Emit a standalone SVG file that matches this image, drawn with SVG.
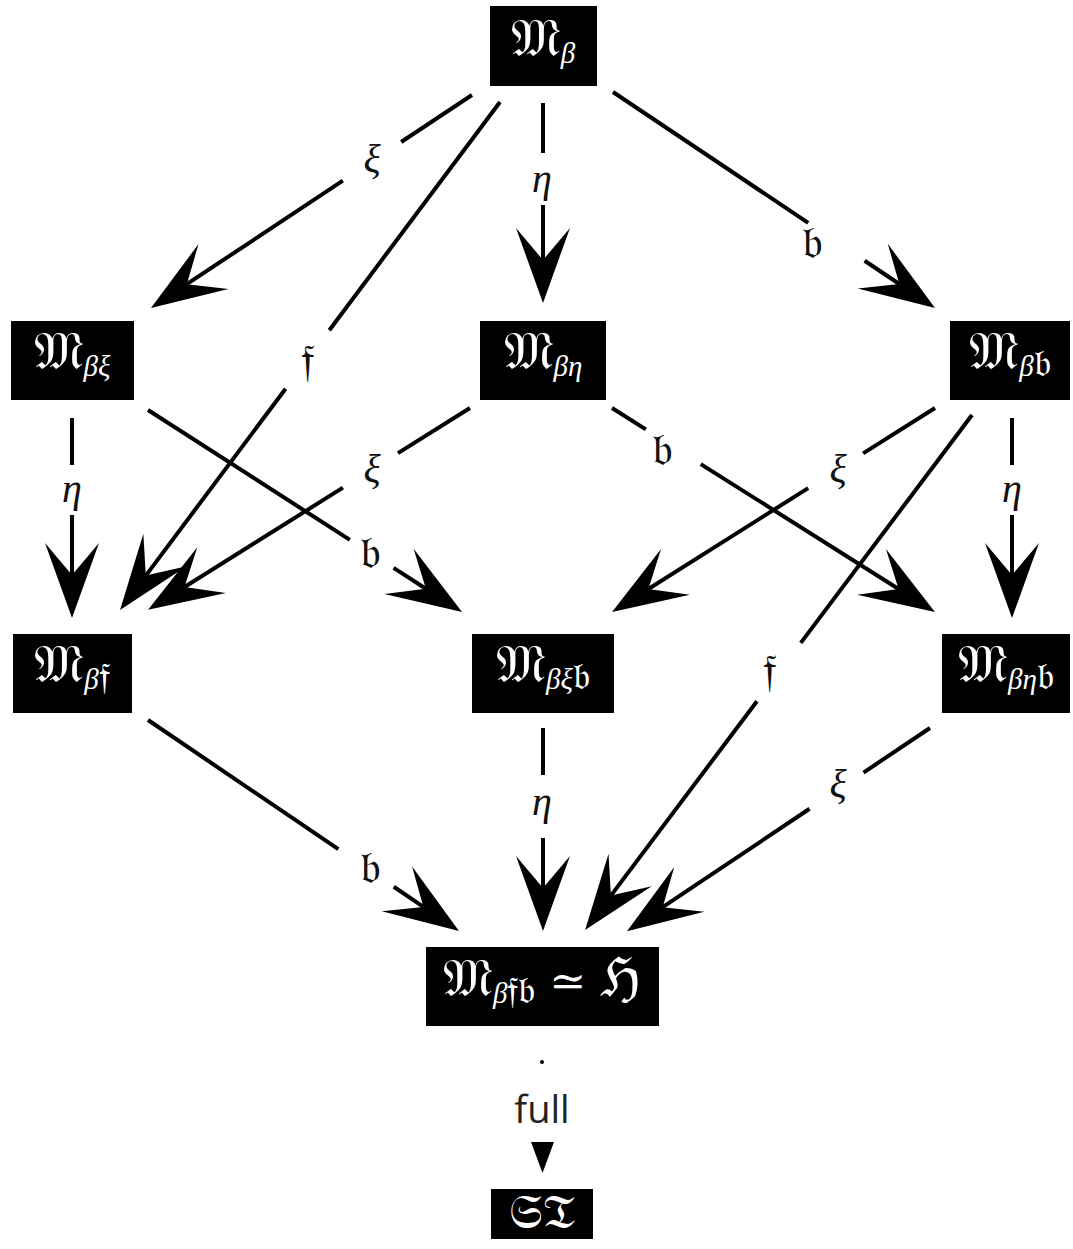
<svg xmlns="http://www.w3.org/2000/svg" width="1073" height="1249" viewBox="0 0 1073 1249">
<style>
.box{fill:#000}
.nt{fill:#fff;font-family:"DejaVu Serif","DejaVu Sans",serif;font-size:54px;text-anchor:middle}
.sub{font-family:"Liberation Serif","DejaVu Serif",serif;font-style:italic;font-size:29px}
.subf{font-family:"DejaVu Serif","DejaVu Sans",serif;font-style:normal;font-size:38px}
.rel{font-family:"DejaVu Serif","DejaVu Sans",serif;font-size:44px}
.edge{fill:none;stroke:#000;stroke-width:4}
.gl{font-family:"Liberation Serif","DejaVu Serif",serif;font-style:italic;font-size:40px;fill:#111;text-anchor:middle}
.fl{font-family:"DejaVu Serif","DejaVu Sans",serif;font-size:46px;fill:#111;text-anchor:middle}
.full{font-family:"Open Sans","Noto Sans",sans-serif;font-size:38px;fill:#222;text-anchor:middle}
</style>
<defs>
<marker id="ah" markerUnits="userSpaceOnUse" markerWidth="80" markerHeight="60" refX="0" refY="0" orient="auto" overflow="visible">
<path d="M43,0 L-32,-27 L0,0 L-32,27 Z" fill="#000"/>
</marker>
</defs>
<g id="connectors">
<path class="edge" d="M472,95 L186.8,284.2" stroke-dasharray="85 70 1000" marker-end="url(#ah)"/>
<path class="edge" d="M500,102 L145.8,575.6" stroke-dasharray="285 73 1000" marker-end="url(#ah)"/>
<path class="edge" d="M543,103 L543,260" stroke-dasharray="50 52 1000" marker-end="url(#ah)"/>
<path class="edge" d="M613,92 L899.3,284" stroke-dasharray="235 68 1000" marker-end="url(#ah)"/>
<path class="edge" d="M72,418 L72,575" stroke-dasharray="47 50 1000" marker-end="url(#ah)"/>
<path class="edge" d="M148,410 L425.9,588.7" stroke-dasharray="240 52 1000" marker-end="url(#ah)"/>
<path class="edge" d="M470,408 L184.5,587" stroke-dasharray="85 65 1000" marker-end="url(#ah)"/>
<path class="edge" d="M612,408 L898.6,589" stroke-dasharray="40 65 1000" marker-end="url(#ah)"/>
<path class="edge" d="M935,408 L648.4,589" stroke-dasharray="85 65 1000" marker-end="url(#ah)"/>
<path class="edge" d="M972,415 L610.9,895.6" stroke-dasharray="285 73 1000" marker-end="url(#ah)"/>
<path class="edge" d="M1012,418 L1012,575" stroke-dasharray="47 50 1000" marker-end="url(#ah)"/>
<path class="edge" d="M148,720 L423.4,906.9" stroke-dasharray="230 67 1000" marker-end="url(#ah)"/>
<path class="edge" d="M543,728 L543,888" stroke-dasharray="47 63 1000" marker-end="url(#ah)"/>
<path class="edge" d="M930,728 L662.7,907.2" stroke-dasharray="80 65 1000" marker-end="url(#ah)"/>
<circle cx="542" cy="1062" r="2" fill="#000"/>
<path d="M531,1142 L554,1142 L542.5,1173 Z" fill="#000"/>
<text class="gl" x="372" y="172">ξ</text>
<text class="fl" x="308" y="376">𝔣</text>
<text class="gl" x="542" y="192">η</text>
<text class="fl" x="812" y="258">𝔟</text>
<text class="gl" x="72" y="502">η</text>
<text class="fl" x="370" y="568">𝔟</text>
<text class="gl" x="372" y="482">ξ</text>
<text class="fl" x="662" y="465">𝔟</text>
<text class="gl" x="838" y="482">ξ</text>
<text class="fl" x="770" y="686">𝔣</text>
<text class="gl" x="1012" y="502">η</text>
<text class="fl" x="370" y="883">𝔟</text>
<text class="gl" x="542" y="815">η</text>
<text class="gl" x="838" y="797">ξ</text>
<text class="full" x="542" y="1123">full</text>
</g>
<g id="n1"><rect class="box" x="490" y="6" width="107" height="80"/><text class="nt" x="543" y="56">𝔐<tspan class="sub" dy="7">β</tspan></text></g>
<g id="n2"><rect class="box" x="11" y="321" width="123" height="79"/><text class="nt" x="72" y="369">𝔐<tspan class="sub" dy="7">βξ</tspan></text></g>
<g id="n3"><rect class="box" x="480" y="321" width="126" height="79"/><text class="nt" x="543" y="369">𝔐<tspan class="sub" dy="7">βη</tspan></text></g>
<g id="n4"><rect class="box" x="950" y="321" width="120" height="79"/><text class="nt" x="1010" y="369">𝔐<tspan class="sub" dy="7">β</tspan><tspan class="subf">𝔟</tspan></text></g>
<g id="n5"><rect class="box" x="13" y="634" width="119" height="79"/><text class="nt" x="72" y="682">𝔐<tspan class="sub" dy="7">β</tspan><tspan class="subf">𝔣</tspan></text></g>
<g id="n6"><rect class="box" x="472" y="634" width="142" height="79"/><text class="nt" x="543" y="682">𝔐<tspan class="sub" dy="7">βξ</tspan><tspan class="subf">𝔟</tspan></text></g>
<g id="n7"><rect class="box" x="942" y="634" width="128" height="79"/><text class="nt" x="1006" y="682">𝔐<tspan class="sub" dy="7">βη</tspan><tspan class="subf">𝔟</tspan></text></g>
<g id="n8"><rect class="box" x="426" y="947" width="233" height="79"/><text class="nt" x="542" y="996">𝔐<tspan class="sub" dy="7">β</tspan><tspan class="subf">𝔣𝔟</tspan><tspan class="rel" dy="-7"> ≃ </tspan><tspan>ℌ</tspan></text></g>
<g id="n9"><rect class="box" x="491" y="1189" width="102" height="50"/><text class="nt" x="542" y="1228" style="font-size:48px">𝔖𝔗</text></g>
</svg>
